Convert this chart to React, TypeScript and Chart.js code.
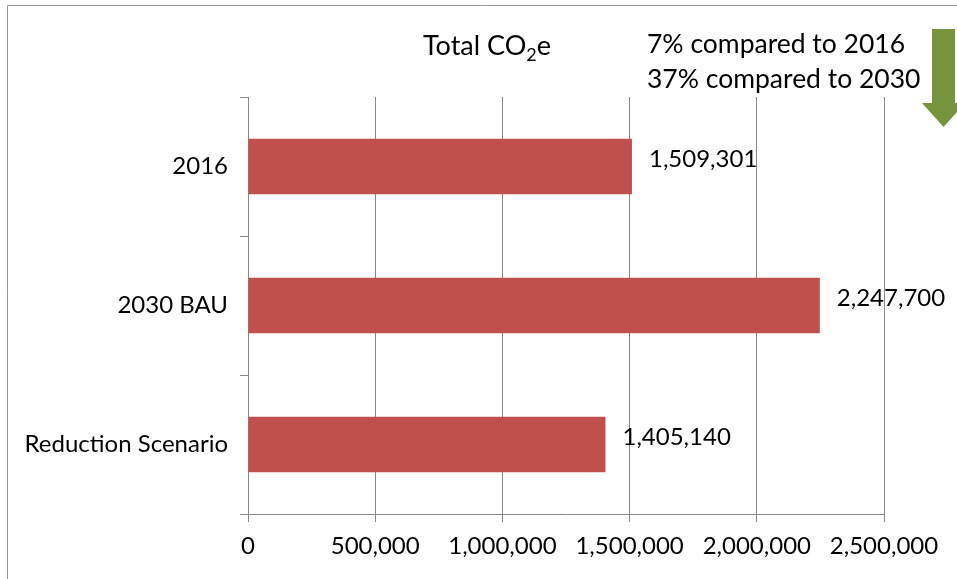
import React, { useEffect, useRef } from "react";
import { Chart, registerables } from "chart.js";

Chart.register(...registerables);

const categories = ["2016", "2030 BAU", "Reduction Scenario"];
const values = [1509301, 2247700, 1405140];
const xTicks = [0, 500000, 1000000, 1500000, 2000000, 2500000];
const titleMain = "Total CO";
const titleSub = "2";
const titleEnd = "e";
const notes = ["7% compared to 2016", "37% compared to 2030"];

const FONT = "Lato, 'Open Sans', sans-serif";
const fmt = (v: number) => v.toLocaleString("en-US");

const overlay = {
  id: "overlay",
  afterDraw(chart: any) {
    const ctx = chart.ctx;
    ctx.save();
    // outer border
    ctx.strokeStyle = "#9a9a9a";
    ctx.lineWidth = 1;
    ctx.beginPath();
    ctx.moveTo(7.5, 579);
    ctx.lineTo(7.5, 5.5);
    ctx.lineTo(957, 5.5);
    ctx.stroke();

    // title with subscript
    ctx.fillStyle = "#000";
    ctx.textBaseline = "alphabetic";
    ctx.textAlign = "left";
    const big = `27px ${FONT}`;
    const small = `18px ${FONT}`;
    ctx.font = big;
    const w1 = ctx.measureText(titleMain).width;
    const w3 = ctx.measureText(titleEnd).width;
    ctx.font = small;
    const w2 = ctx.measureText(titleSub).width;
    const total = w1 + w2 + w3;
    let x = 487 - total / 2;
    const base = 55;
    ctx.font = big;
    ctx.fillText(titleMain, x, base);
    x += w1;
    ctx.font = small;
    ctx.fillText(titleSub, x, base + 6);
    x += w2;
    ctx.font = big;
    ctx.fillText(titleEnd, x, base);

    // notes
    ctx.font = `26.5px ${FONT}`;
    ctx.fillText(notes[0], 647, 53);
    ctx.fillText(notes[1], 647, 88);

    // arrow
    ctx.fillStyle = "#77933C";
    ctx.beginPath();
    ctx.moveTo(932, 29);
    ctx.lineTo(955, 29);
    ctx.lineTo(955, 103);
    ctx.lineTo(965, 103);
    ctx.lineTo(943.5, 127);
    ctx.lineTo(922, 103);
    ctx.lineTo(932, 103);
    ctx.closePath();
    ctx.fill();

    // data labels
    const meta = chart.getDatasetMeta(0);
    ctx.fillStyle = "#000";
    ctx.font = `24px ${FONT}`;
    ctx.textBaseline = "middle";
    meta.data.forEach((el: any, i: number) => {
      ctx.fillText(fmt(values[i]), el.x + 17, el.y - 7);
    });
    ctx.restore();
  },
};

export default function App() {
  const ref = useRef<HTMLCanvasElement>(null);
  useEffect(() => {
    document.body.style.margin = "0";
    const chart = new Chart(ref.current!, {
      type: "bar",
      data: {
        labels: categories,
        datasets: [
          {
            data: values,
            backgroundColor: "#C0504D",
            barPercentage: 0.4,
            categoryPercentage: 1,
          },
        ],
      },
      options: {
        indexAxis: "y",
        animation: false,
        responsive: false,
        events: [],
        layout: { padding: { top: 97, right: 73, left: 0, bottom: 0 } },
        plugins: {
          legend: { display: false },
          tooltip: { enabled: false },
          title: { display: false },
        },
        scales: {
          x: {
            min: xTicks[0],
            max: xTicks[xTicks.length - 1],
            afterBuildTicks: (scale: any) => {
              scale.ticks = xTicks.map((v) => ({ value: v }));
            },
            afterFit: (scale: any) => {
              scale.height = 65;
            },
            ticks: {
              callback: (v: any) => fmt(Number(v)),
              color: "#000",
              font: { family: FONT, size: 24 },
              padding: 10,
              maxRotation: 0,
              autoSkip: false,
            },
            grid: { color: "#888", tickLength: 8, lineWidth: 1 },
            border: { color: "#888" },
          },
          y: {
            afterFit: (scale: any) => {
              scale.width = 248;
            },
            ticks: {
              color: "#000",
              font: { family: FONT, size: 24 },
              padding: 12,
            },
            grid: {
              offset: true,
              drawOnChartArea: false,
              tickLength: 8,
              color: "#888",
            },
            border: { color: "#888" },
          },
        },
      },
      plugins: [overlay],
    });
    return () => chart.destroy();
  }, []);
  return (
    <div style={{ position: "fixed", left: 0, top: 0, width: 957, height: 579, background: "#fff" }}>
      <canvas ref={ref} width={957} height={579} />
    </div>
  );
}
